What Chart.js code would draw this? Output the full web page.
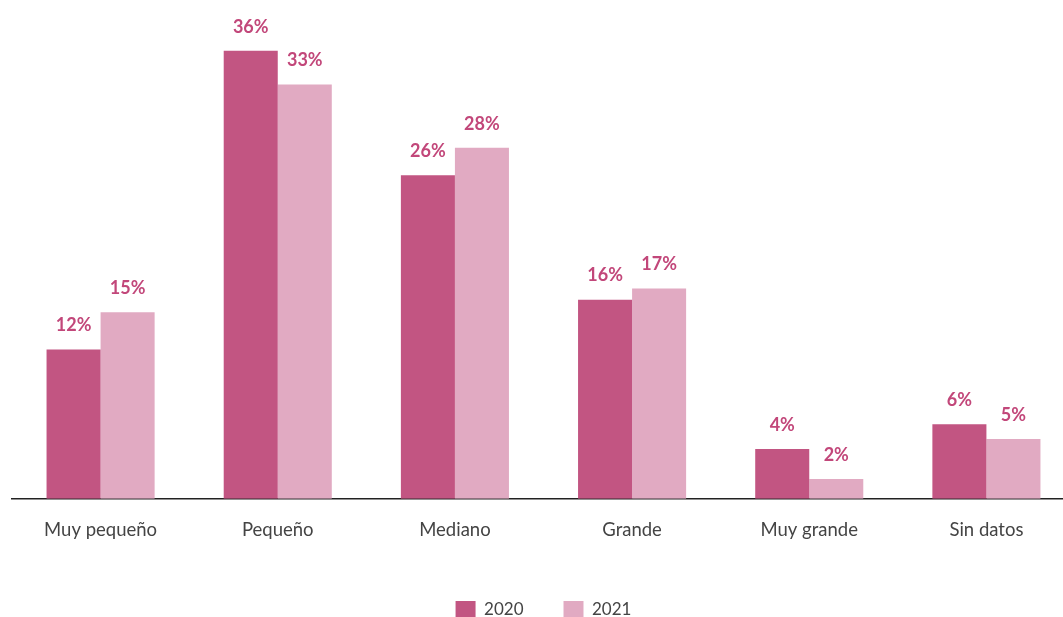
<!DOCTYPE html>
<html>
<head>
<meta charset="utf-8">
<script src="https://cdn.jsdelivr.net/npm/chart.js@4/dist/chart.umd.min.js"></script>
<style>
  html, body { margin: 0; padding: 0; background: #fff; overflow: hidden; }
  #wrap { width: 1075px; height: 628px; }
</style>
</head>
<body>
<div id="wrap"><canvas id="myChart"></canvas></div>
<script>
// categories and values (percent)
var categories = ['Muy pequeño', 'Pequeño', 'Mediano', 'Grande', 'Muy grande', 'Sin datos'];
var values2020 = [12, 36, 26, 16, 4, 6];
var values2021 = [15, 33.3, 28.2, 16.9, 1.6, 4.8];
var labels2020 = ['12%', '36%', '26%', '16%', '4%', '6%'];
var labels2021 = ['15%', '33%', '28%', '17%', '2%', '5%'];

var dark = '#c25582';
var light = '#e1aac2';

// draw the value labels above each bar
var valueLabels = {
  id: 'valueLabels',
  afterDatasetsDraw: function(chart) {
    var ctx = chart.ctx;
    var texts = [labels2020, labels2021];
    ctx.save();
    ctx.font = 'bold 18px Lato';
    ctx.fillStyle = '#c2477a';
    ctx.textAlign = 'center';
    ctx.textBaseline = 'bottom';
    chart.data.datasets.forEach(function(ds, i) {
      chart.getDatasetMeta(i).data.forEach(function(bar, j) {
        ctx.fillText(texts[i][j], bar.x, bar.y - 15);
      });
    });
    ctx.restore();
  }
};

var ctx = document.getElementById('myChart').getContext('2d');
var chart = new Chart(ctx, {
  type: 'bar',
  data: {
    labels: categories,
    datasets: [{
      label: '2020',
      backgroundColor: dark,
      data: values2020
    }, {
      label: '2021',
      backgroundColor: light,
      data: values2021
    }]
  },
  plugins: [valueLabels],
  options: {
    responsive: true,
    maintainAspectRatio: false,
    animation: false,
    layout: { padding: { left: 12, right: 0, top: 1, bottom: 0 } },
    datasets: {
      bar: { categoryPercentage: 0.61, barPercentage: 1.0 }
    },
    scales: {
      x: {
        grid: { display: false, drawTicks: false },
        border: { color: '#222', width: 1.5 },
        ticks: {
          color: '#444',
          padding: 20,
          font: { family: 'Lato', size: 18.5 }
        }
      },
      y: {
        display: false,
        min: 0,
        max: 40
      }
    },
    plugins: {
      legend: {
        position: 'bottom',
        labels: {
          boxWidth: 20,
          boxHeight: 17,
          padding: 40,
          color: '#444',
          font: { family: 'Lato', size: 17 }
        }
      },
      tooltip: { enabled: false }
    }
  }
});
</script>
</body>
</html>
